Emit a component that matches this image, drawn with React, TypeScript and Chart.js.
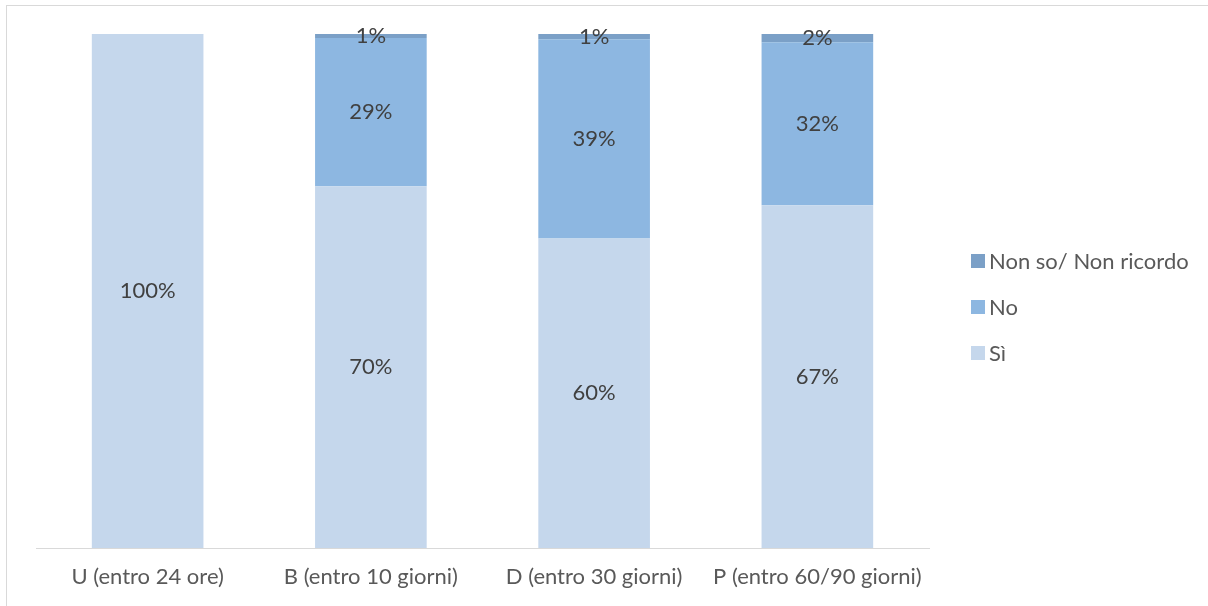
import React, { useEffect, useRef } from "react";
import { Chart, registerables } from "chart.js";

Chart.register(...registerables);

const categories = ["U (entro 24 ore)", "B (entro 10 giorni)", "D (entro 30 giorni)", "P (entro 60/90 giorni)"];
const siValues = [100, 70.4, 60.2, 66.7];
const noValues = [0, 28.8, 38.8, 31.7];
const nonSoValues = [0, 0.8, 1.0, 1.6];
const seriesNames = ["Sì", "No", "Non so/ Non ricordo"];
const seriesColors = ["#C5D7EC", "#8DB7E1", "#7BA0C7"];

const FONT = "Lato, 'Open Sans', sans-serif";
const FONT_SIZE = 22;

const labelPlugin = {
  id: "segmentLabels",
  afterDatasetsDraw(chart: any) {
    const ctx = chart.ctx;
    ctx.save();
    ctx.font = `${FONT_SIZE}px ${FONT}`;
    ctx.fillStyle = "#404040";
    ctx.textAlign = "center";
    ctx.textBaseline = "middle";
    chart.data.datasets.forEach((ds: any, di: number) => {
      const meta = chart.getDatasetMeta(di);
      meta.data.forEach((bar: any, i: number) => {
        const v = ds.data[i];
        if (!v) return;
        const p = bar.getProps(["x", "y", "base"], true);
        const cy = (p.y + p.base) / 2;
        ctx.fillText(Math.round(v) + "%", p.x, cy);
      });
    });
    ctx.restore();
  },
};

const legendPlugin = {
  id: "sideLegend",
  afterDraw(chart: any) {
    const ctx = chart.ctx;
    const area = chart.chartArea;
    const ds = chart.data.datasets.slice().reverse();
    const spacing = 46;
    const midY = (area.top + area.bottom) / 2;
    const startY = midY - ((ds.length - 1) * spacing) / 2 + 16;
    const boxX = area.right + 42;
    ctx.save();
    ctx.font = `${FONT_SIZE}px ${FONT}`;
    ctx.textBaseline = "middle";
    ctx.textAlign = "left";
    ds.forEach((d: any, i: number) => {
      const cy = startY + i * spacing;
      ctx.fillStyle = d.backgroundColor;
      ctx.fillRect(boxX, cy - 7, 14, 14);
      ctx.fillStyle = "#595959";
      ctx.fillText(d.label, boxX + 18, cy + 1);
    });
    ctx.restore();
  },
};

export default function App() {
  const ref = useRef<HTMLCanvasElement>(null);
  useEffect(() => {
    document.body.style.margin = "0";
    const chart = new Chart(ref.current!, {
      type: "bar",
      data: {
        labels: categories,
        datasets: [
          { label: seriesNames[0], data: siValues, backgroundColor: seriesColors[0] },
          { label: seriesNames[1], data: noValues, backgroundColor: seriesColors[1] },
          { label: seriesNames[2], data: nonSoValues, backgroundColor: seriesColors[2] },
        ],
      },
      options: {
        animation: false,
        responsive: false,
        maintainAspectRatio: false,
        layout: { padding: { left: 36, top: 34, right: 279, bottom: 0 } },
        datasets: { bar: { barPercentage: 1, categoryPercentage: 0.5, borderWidth: 0 } },
        scales: {
          x: {
            stacked: true,
            grid: { display: false, drawTicks: false },
            border: { display: true, color: "#D9D9D9", width: 1 },
            ticks: { color: "#595959", font: { family: FONT, size: FONT_SIZE }, padding: 16, maxRotation: 0 },
            afterFit: (scale: any) => {
              scale.height = 58;
            },
          },
          y: { stacked: true, display: false, min: 0, max: 100 },
        },
        plugins: {
          legend: { display: false },
          tooltip: { enabled: false },
        },
      },
      plugins: [labelPlugin, legendPlugin],
    });
    return () => chart.destroy();
  }, []);
  return (
    <div style={{ position: "relative", width: 1208, height: 606, overflow: "hidden" }}>
      <div style={{ position: "absolute", left: 6, top: 5, width: 1230, height: 630, border: "1px solid #D9D9D9" }} />
      <canvas ref={ref} width={1208} height={606} style={{ position: "absolute", left: 0, top: 0 }} />
    </div>
  );
}
